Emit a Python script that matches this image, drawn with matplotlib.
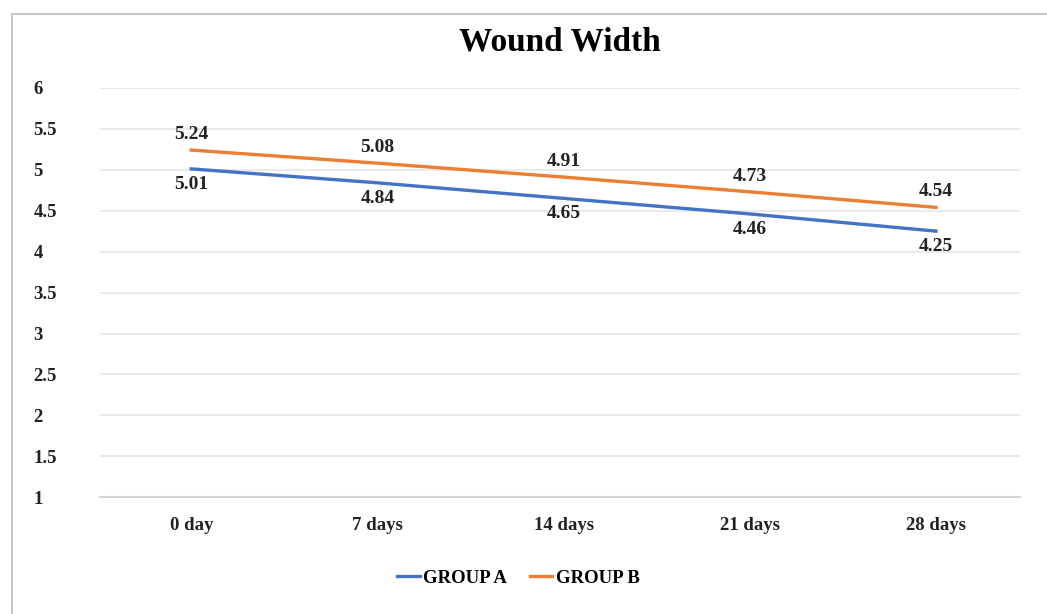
import numpy as np
import matplotlib.pyplot as plt
from matplotlib.patches import Rectangle

plt.rcParams["font.family"] = ["Liberation Serif", "DejaVu Serif"]
plt.rcParams["font.weight"] = "bold"

days = ["0 day", "7 days", "14 days", "21 days", "28 days"]
group_a = [5.01, 4.84, 4.65, 4.46, 4.25]
group_b = [5.24, 5.08, 4.91, 4.73, 4.54]
y_ticks = [1, 1.5, 2, 2.5, 3, 3.5, 4, 4.5, 5, 5.5, 6]

fig = plt.figure(figsize=(10.47, 6.14), dpi=100)
ax = fig.add_axes([0.0955, 0.19, 0.8785, 0.667])

# outer chart frame
fig.patches.append(Rectangle((12 / 1047, -0.05), 1.2, 1 - 14 / 614 + 0.05,
                             transform=fig.transFigure, fill=False,
                             edgecolor="#c8c8c8", linewidth=1.5))

x = np.arange(len(days))
ax.plot(x, group_a, color="#4472C4", linewidth=2.4, label="GROUP A")
ax.plot(x, group_b, color="#ED7D31", linewidth=2.4, label="GROUP B")

# value labels: A under its line, B over its line so the two rows stay apart
for xi, v in zip(x, group_a):
    ax.annotate(f"{v:.2f}", (xi, v), xytext=(0, -5), textcoords="offset points",
                ha="center", va="top", fontsize=14, color="#222222")
for xi, v in zip(x, group_b):
    ax.annotate(f"{v:.2f}", (xi, v), xytext=(0, 5), textcoords="offset points",
                ha="center", va="bottom", fontsize=14, color="#222222")

ax.set_xlim(-0.49, 4.45)
ax.set_ylim(1, 6)
ax.set_yticks(y_ticks)
ax.set_yticklabels([f"{t:g}" for t in y_ticks])
ax.set_xticks(x)
ax.set_xticklabels(days)
ax.tick_params(axis="both", length=0, labelsize=13.5, colors="#222222")
ax.tick_params(axis="y", pad=48)
ax.tick_params(axis="x", pad=14)
for lbl in ax.get_yticklabels():
    lbl.set_horizontalalignment("left")

ax.grid(axis="y", color="#e6e6e6", linewidth=1.2)
ax.set_axisbelow(True)
for side in ["top", "right", "left"]:
    ax.spines[side].set_visible(False)
ax.spines["bottom"].set_color("#d4d4d4")
ax.spines["bottom"].set_linewidth(1.5)

ax.set_title("Wound Width", fontsize=24, fontweight="bold", pad=27)
ax.legend(loc="upper center", bbox_to_anchor=(0.455, -0.135), ncol=2,
          frameon=False, fontsize=13.5, handlelength=1.2, handletextpad=0.2,
          columnspacing=1.2)

fig.savefig("out.png", dpi=100)
